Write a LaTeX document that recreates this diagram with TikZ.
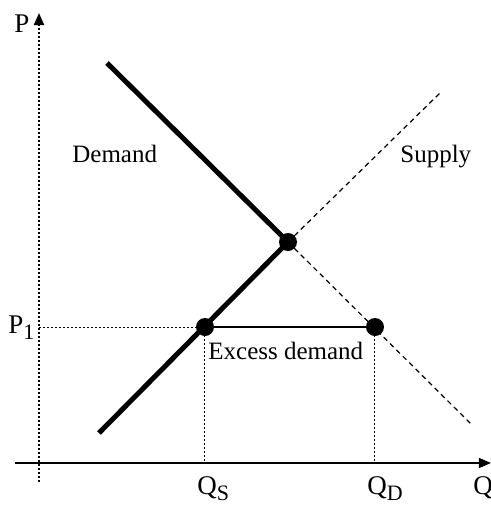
\documentclass[tikz,border=0pt]{standalone}
\usepackage{amsmath}
\usepackage{fontspec}
\setmainfont{Liberation Serif}
\usetikzlibrary{arrows.meta,positioning}

\newcommand{\lowsub}[1]{\raisebox{-0.55ex}{\fontsize{11}{11}\selectfont #1}}

\begin{document}
\begin{tikzpicture}[
  x=0.5pt, y=-0.5pt,
  lbl/.style={font=\fontsize{12.5}{14}\selectfont, inner sep=0pt, anchor=base west},
  axlbl/.style={lbl, font=\fontsize{13.5}{15}\selectfont},
  curve/.style={line width=2.5pt},
  ext/.style={line width=0.6pt, dash pattern=on 2.5pt off 2pt},
  guide/.style={line width=0.5pt, dash pattern=on 1pt off 1pt},
  dot/.style={circle, fill=black, inner sep=0pt, minimum size=9pt},
  ax/.style={line width=0.6pt, -{Triangle[length=6pt,width=5pt]}}
]
\useasboundingbox (0,0) rectangle (491,505);

% axes
\coordinate (ybot) at (39,482);
\coordinate (ytop) at (39,13);
\coordinate (xl) at (15,463);
\coordinate (xr) at (491,463);
\draw[ax, line width=1pt, dash pattern=on 1pt off 1pt] (ybot) -- (ytop);
\draw[ax] (xl) -- (xr);

% curves
\coordinate (dtop) at (107,63);
\coordinate (dend) at (472,425);
\coordinate (sbot) at (99,433);
\coordinate (send) at (441,92);
\node[dot] (eq) at (288,242) {};
\node[dot] (qs) at (205,327) {};
\node[dot] (qd) at (375,327) {};
\coordinate (p1) at (39,327);

\draw[curve] (dtop) -- (eq.center) -- (sbot);
\draw[ext] (eq.center) -- (dend);
\draw[ext] (eq.center) -- (send);

% shortage
\draw[line width=0.7pt] (qs.center) -- (qd.center);
\draw[guide] (p1) -- (qs.center);
\draw[guide] (qs.center) -- (qs |- xl);
\draw[guide] (qd.center) -- (qd |- xl);

% labels
\node[axlbl] (plab) at (14,32) {P};
\node[axlbl] (p1lab) at (8,333) {P\lowsub{1}};
\node[lbl] (dlab) at (72,162) {Demand};
\node[lbl] (slab) at (400,162) {Supply};
\node[lbl] (exlab) at (208,359) {Excess demand};
\node[axlbl] (qslab) at (197,494) {Q\lowsub{S}};
\node[axlbl] (qdlab) at (367,494) {Q\lowsub{D}};
\node[axlbl] (qlab) at (473,494) {Q};
\end{tikzpicture}
\end{document}
